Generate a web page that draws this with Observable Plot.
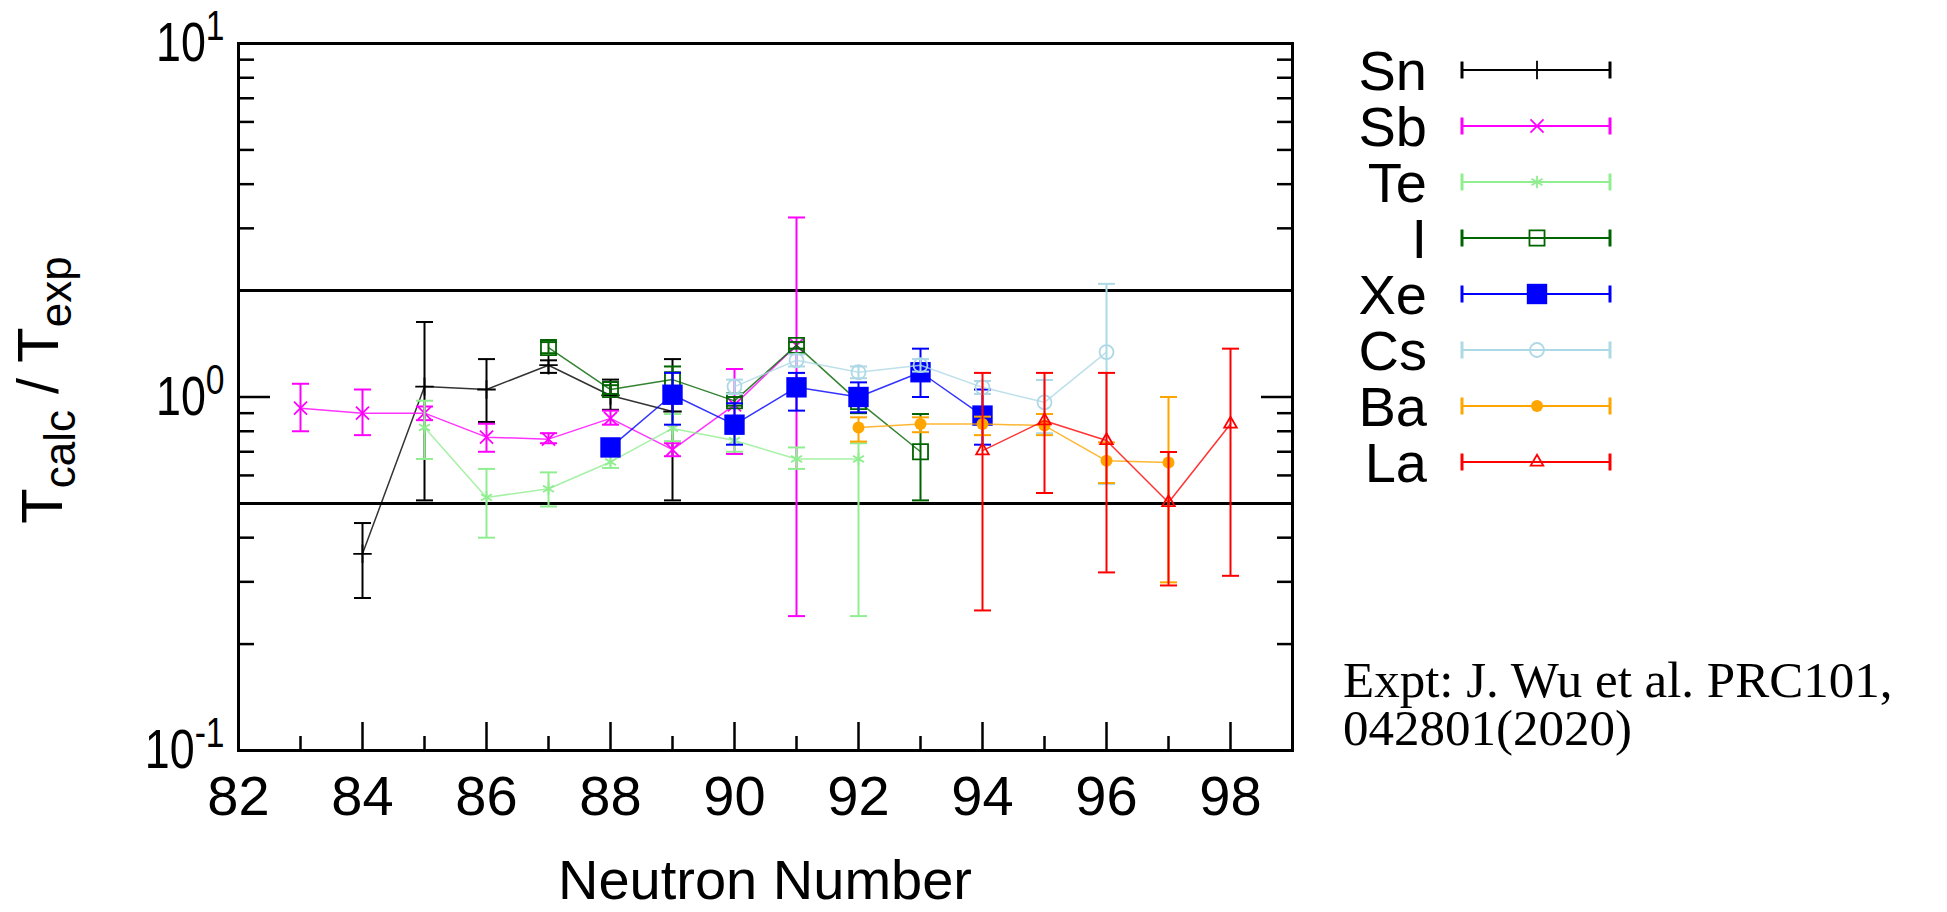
<!DOCTYPE html>
<html><head><meta charset="utf-8">
<script src="https://cdn.jsdelivr.net/npm/d3@7"></script>
<script src="https://cdn.jsdelivr.net/npm/@observablehq/plot@0.6"></script>
<style>
html,body{margin:0;padding:0;background:#fff;overflow:hidden;}
#wrap{position:relative;width:1947px;height:912px;}
#wrap svg{position:absolute;left:0;top:0;max-width:none;}
</style></head><body><div id="wrap"></div>
<script>
// ---- categories / styling keys ----
const elements = ["Sn","Sb","Te","I","Xe","Cs","Ba","La"];
const colors   = ["#000000","#ff00ff","#90ee90","#006400","#0000ff","#add8e6","#ffa500","#ff0000"];
const symbols  = ["plus","times","asterisk","square","square","circle","circle","triangle2"];
const filled   = [false,false,false,false,true,false,true,false];
const symbolR  = [6,6,6,8.5,11.5,7,6,6];

// ---- series values (N, ratio, lower, upper) ----
const snN  = [84,85,86,87,88,89];
const snR  = [0.36,1.07,1.05,1.23,1.01,0.91];
const snLo = [0.27,0.51,0.85,1.17,0.92,0.51];
const snHi = [0.44,1.63,1.28,1.27,1.12,1.28];

const sbN  = [83,84,85,86,87,88,89,90,91];
const sbR  = [0.93,0.90,0.90,0.77,0.76,0.87,0.71,0.95,1.40];
const sbLo = [0.80,0.78,0.86,0.70,0.74,0.835,0.68,0.69,0.24];
const sbHi = [1.09,1.05,0.94,0.84,0.79,0.915,0.74,1.20,3.22];

const teN  = [85,86,87,88,89,90,91,92];
const teR  = [0.82,0.52,0.55,0.655,0.815,0.753,0.668,0.668];
const teLo = [0.668,0.40,0.49,0.63,0.75,0.70,0.626,0.24];
const teHi = [0.976,0.626,0.612,0.68,0.895,0.786,0.72,0.74];

const iN   = [87,88,89,90,91,92,93];
const iR   = [1.38,1.05,1.12,0.975,1.40,0.97,0.70];
const iLo  = [1.33,1.02,1.02,0.945,1.37,0.90,0.51];
const iHi  = [1.43,1.08,1.22,1.0,1.43,1.05,0.895];

const xeN  = [88,89,90,91,92,93,94];
const xeR  = [0.72,1.015,0.835,1.065,1.0,1.175,0.886];
const xeLo = [0.70,0.835,0.733,0.915,0.905,1.0,0.733];
const xeHi = [0.74,1.17,0.96,1.17,1.10,1.37,1.05];

const csN  = [90,91,92,93,94,95,96];
const csR  = [1.07,1.27,1.175,1.23,1.065,0.966,1.34];
const csLo = [1.02,1.22,1.13,1.18,1.02,0.79,0.567];
const csHi = [1.12,1.32,1.22,1.28,1.11,1.117,2.09];

const baN  = [92,93,94,95,96,97];
const baR  = [0.82,0.839,0.839,0.83,0.66,0.653];
const baLo = [0.748,0.795,0.78,0.78,0.571,0.299];
const baHi = [0.876,0.876,0.88,0.895,0.744,1.0];

const laN  = [94,95,96,97,98];
const laR  = [0.705,0.857,0.753,0.503,0.839];
const laLo = [0.249,0.535,0.319,0.293,0.312];
const laHi = [1.17,1.17,1.17,0.699,1.37];

// ---- reference lines and ticks ----
const refLines = [0.5, 2];
const xMajor = [82,84,86,88,90,92,94,96,98];
const xMinor = [83,85,87,89,91,93,95,97];
const yMajor = [0.1, 1, 10];
const yExp   = ["-1","0","1"];
const yMinor = [0.2,0.3,0.4,0.5,0.6,0.7,0.8,0.9,2,3,4,5,6,7,8,9];
const xTitle = "Neutron Number";
const caption = ["Expt: J. Wu et al. PRC101,", "042801(2020)"];

const series = [
  [snN,snR,snLo,snHi],[sbN,sbR,sbLo,sbHi],[teN,teR,teLo,teHi],[iN,iR,iLo,iHi],
  [xeN,xeR,xeLo,xeHi],[csN,csR,csLo,csHi],[baN,baR,baLo,baHi],[laN,laR,laLo,laHi]
];
const rows = elements.flatMap((el,i) => series[i][0].map((n,j) => ({el, N:n, r:series[i][1][j], lo:series[i][2][j], hi:series[i][3][j]})));

const capSymbol = {draw(ctx,size){const w=Math.sqrt(size/Math.PI); ctx.moveTo(-w,0); ctx.lineTo(w,0);}};

const marks = [Plot.ruleY(refLines, {stroke:"black", strokeWidth:3})];
elements.forEach((el,i) => {
  const d = rows.filter(r => r.el === el);
  const c = colors[i];
  marks.push(Plot.line(d, {x:"N", y:"r", stroke:c, strokeWidth:1.5, strokeOpacity:0.8}));
  marks.push(Plot.ruleX(d, {x:"N", y1:"lo", y2:"hi", stroke:c, strokeWidth:2}));
  marks.push(Plot.dot(d, {x:"N", y:"lo", symbol:capSymbol, r:8.5, stroke:c, fill:"none", strokeWidth:2}));
  marks.push(Plot.dot(d, {x:"N", y:"hi", symbol:capSymbol, r:8.5, stroke:c, fill:"none", strokeWidth:2}));
  marks.push(Plot.dot(d, {x:"N", y:"r", symbol:symbols[i], r:symbolR[i], fill: filled[i] ? c : "none", stroke:c, strokeWidth:filled[i] ? 0 : 1.8}));
});
marks.push(
  Plot.axisX({ticks:xMajor, tickSize:28, dy:-28, fill:"none", label:null, strokeWidth:2.5}),
  Plot.axisX({ticks:xMinor, tickSize:14, dy:-14, fill:"none", label:null, strokeWidth:2.5}),
  Plot.axisX({ticks:xMajor, tickSize:0, tickPadding:25, label:null, tickFormat:d => String(d)}),
  Plot.axisY({anchor:"left", ticks:yMajor, tickSize:32, dx:32, fill:"none", label:null, strokeWidth:2.5}),
  Plot.axisY({anchor:"left", ticks:yMinor, tickSize:16, dx:16, fill:"none", label:null, strokeWidth:2.5}),
  Plot.axisY({anchor:"right", ticks:yMajor, tickSize:32, dx:-32, fill:"none", label:null, strokeWidth:2.5}),
  Plot.axisY({anchor:"right", ticks:yMinor, tickSize:16, dx:-16, fill:"none", label:null, strokeWidth:2.5}),
  Plot.axisY({anchor:"left", ticks:yMajor, tickSize:0, tickPadding:14, label:null, tickFormat:d => "10^" + yExp[yMajor.indexOf(d)]}),
  Plot.frame({stroke:"black", strokeWidth:3})
);

const svg = Plot.plot({
  width:1947, height:912,
  marginLeft:238, marginRight:655, marginTop:43, marginBottom:162,
  x:{domain:[82,99]},
  y:{type:"log", domain:[0.1,10]},
  style:{fontFamily:"'Liberation Sans', Arial, sans-serif", fontSize:"56px", color:"black", background:"transparent"},
  marks
});
document.getElementById("wrap").appendChild(svg);
// superscripts on y tick labels, slightly condensed as in the reference
d3.select(svg).selectAll('g[aria-label="y-axis tick label"] text').each(function(){
  const [base, exp] = this.textContent.split("^");
  const s = d3.select(this); s.text(null);
  s.append("tspan").text(base);
  s.append("tspan").attr("dy","-0.5em").attr("font-size","42px").text(exp);
  try {
    const b = this.getBBox();
    const cx = b.x + b.width, cy = b.y + b.height / 2;
    if (isFinite(cx) && isFinite(cy) && b.width > 0) {
      const tr = s.attr("transform") || "";
      s.attr("transform", `${tr} translate(${cx},${cy}) scale(0.8,1) translate(${-cx},${-cy})`.trim());
    }
  } catch (e) {}
});

// overlay: legend, axis titles, caption
const ov = d3.select("#wrap").append("svg").attr("width",1947).attr("height",912)
  .style("font-family","'Liberation Sans', Arial, sans-serif");
const d3sym = {plus:d3.symbolPlus, times:d3.symbolTimes, asterisk:d3.symbolAsterisk, square:d3.symbolSquare, circle:d3.symbolCircle, triangle2:d3.symbolTriangle2};
elements.forEach((el,i) => {
  const y = 70 + i*56, c = colors[i];
  const g = ov.append("g");
  g.append("text").attr("x",1427).attr("y",y).attr("dy","0.36em").attr("text-anchor","end").attr("font-size",56).text(el);
  g.append("line").attr("x1",1462).attr("x2",1610).attr("y1",y).attr("y2",y).attr("stroke",c).attr("stroke-width",2.2);
  g.append("line").attr("x1",1462).attr("x2",1462).attr("y1",y-8.5).attr("y2",y+8.5).attr("stroke",c).attr("stroke-width",3);
  g.append("line").attr("x1",1610).attr("x2",1610).attr("y1",y-8.5).attr("y2",y+8.5).attr("stroke",c).attr("stroke-width",3);
  g.append("path").attr("transform",`translate(1537,${y})`)
    .attr("d", d3.symbol(d3sym[symbols[i]], symbolR[i]*symbolR[i]*Math.PI)())
    .attr("fill", filled[i] ? c : "none").attr("stroke", c).attr("stroke-width", filled[i] ? 0 : 1.8);
});
// y title
const yt = ov.append("text").attr("transform","translate(62,390) rotate(-90)").attr("text-anchor","middle").attr("font-size",58);
yt.append("tspan").text("T");
yt.append("tspan").attr("font-size",44).attr("dy","0.3em").text("calc");
yt.append("tspan").attr("dy","-0.3em").text(" / T");
yt.append("tspan").attr("font-size",44).attr("dy","0.3em").text("exp");
// x title
ov.append("text").attr("x",765).attr("y",899).attr("text-anchor","middle").attr("font-size",56).text(xTitle);
// caption
caption.forEach((line,i) => ov.append("text").attr("x",1343).attr("y",697 + i*48)
  .attr("font-family","'Liberation Serif', 'Times New Roman', serif").attr("font-size",51).text(line));
</script></body></html>
